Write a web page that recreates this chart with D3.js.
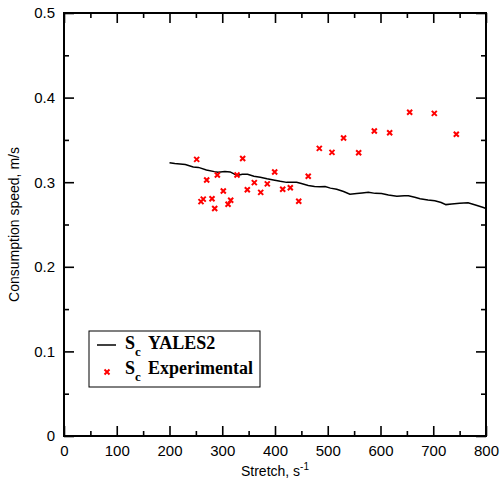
<!DOCTYPE html>
<html>
<head>
<meta charset="utf-8">
<script src="https://cdn.jsdelivr.net/npm/d3@7"></script>
<style>
  body { margin: 0; background: #fff; }
  .tick text { font-family: "Liberation Sans", Arial, sans-serif; font-size: 15px; fill: #000; }
  .axisText { font-family: "Liberation Sans", Arial, sans-serif; font-size: 14px; fill: #000; }
  .legText { font-family: "Liberation Serif", "Times New Roman", serif; font-weight: bold; fill: #000; }
</style>
</head>
<body>
<div id="chart"></div>
<script>
// YALES2 consumption speed (stretch, speed)
var yalesStretch = [200, 210, 220, 230, 245, 255, 270, 285, 292, 305, 315, 328, 338, 348, 360, 372, 385, 397, 410, 422,
                    432, 441, 450, 463, 475, 485, 495, 505, 517, 530, 542, 555, 565, 577, 590, 602, 615, 631, 645, 653,
                    665, 675, 690, 703, 715, 724, 735, 750, 766, 780, 795, 800];
var yalesSpeed   = [0.323, 0.322, 0.3215, 0.321, 0.318, 0.3175, 0.3145, 0.3125, 0.3117, 0.3125, 0.3122, 0.308, 0.3095, 0.3093, 0.307, 0.3058, 0.304, 0.3026, 0.301, 0.2998,
                    0.300, 0.300, 0.2985, 0.2962, 0.295, 0.2945, 0.2948, 0.293, 0.2916, 0.289, 0.2857, 0.2865, 0.2872, 0.288, 0.2868, 0.2866, 0.2848, 0.2833, 0.284, 0.284,
                    0.2822, 0.2805, 0.279, 0.278, 0.276, 0.2735, 0.2742, 0.275, 0.2758, 0.273, 0.270, 0.269];

// experimental points
var expStretch = [251.5, 338.7, 484, 399.4, 463, 270.5, 290.7, 328, 360.8, 385.4, 347.5, 372.9, 414.6, 429, 302,
                  445, 264, 259.7, 280.6, 316, 311, 285.7, 508, 530, 558.6, 588.3, 617.4, 655.3, 702, 743.7];
var expSpeed   = [0.327, 0.328, 0.340, 0.312, 0.307, 0.3026, 0.3085, 0.3085, 0.2995, 0.298, 0.291, 0.288, 0.2916, 0.2935, 0.2896,
                  0.2774, 0.280, 0.277, 0.2805, 0.2786, 0.2739, 0.269, 0.3353, 0.3522, 0.3349, 0.3605, 0.3585, 0.3826, 0.3814, 0.3566];

var xMajor = [0, 100, 200, 300, 400, 500, 600, 700, 800];
var xMinor = [50, 150, 250, 350, 450, 550, 650, 750];
var yMajor = [0, 0.1, 0.2, 0.3, 0.4, 0.5];
var yMinor = [0.05, 0.15, 0.25, 0.35, 0.45];

var W = 501, H = 486;
var margin = {top: 13, right: 15, bottom: 50, left: 64};
var width = W - margin.left - margin.right,
    height = H - margin.top - margin.bottom;

var svg = d3.select("#chart").append("svg")
  .attr("width", W).attr("height", H)
  .append("g")
  .attr("transform", "translate(" + margin.left + "," + margin.top + ")");

var x = d3.scaleLinear().domain([0, 800]).range([0, width]);
var y = d3.scaleLinear().domain([0, 0.5]).range([height, 0]);

var fmtY = function(d) { return d === 0 ? "0" : d3.format(".1f")(d); };

// major ticks with labels (bottom, left), no labels on top/right
svg.append("g").attr("transform", "translate(0," + height + ")")
  .call(d3.axisBottom(x).tickValues(xMajor).tickSizeInner(-10).tickSizeOuter(0).tickPadding(9).tickFormat(d3.format("d")));
svg.append("g")
  .call(d3.axisLeft(y).tickValues(yMajor).tickSizeInner(-10).tickSizeOuter(0).tickPadding(9).tickFormat(fmtY));
svg.append("g")
  .call(d3.axisTop(x).tickValues(xMajor).tickSizeInner(-10).tickSizeOuter(0).tickFormat(""));
svg.append("g").attr("transform", "translate(" + width + ",0)")
  .call(d3.axisRight(y).tickValues(yMajor).tickSizeInner(-10).tickSizeOuter(0).tickFormat(""));

// minor ticks
svg.append("g").attr("transform", "translate(0," + height + ")")
  .call(d3.axisBottom(x).tickValues(xMinor).tickSizeInner(-5).tickSizeOuter(0).tickFormat(""));
svg.append("g")
  .call(d3.axisLeft(y).tickValues(yMinor).tickSizeInner(-5).tickSizeOuter(0).tickFormat(""));
svg.append("g")
  .call(d3.axisTop(x).tickValues(xMinor).tickSizeInner(-5).tickSizeOuter(0).tickFormat(""));
svg.append("g").attr("transform", "translate(" + width + ",0)")
  .call(d3.axisRight(y).tickValues(yMinor).tickSizeInner(-5).tickSizeOuter(0).tickFormat(""));

svg.selectAll(".domain").remove();
svg.selectAll(".tick line").attr("stroke", "#000").attr("stroke-width", 1.6);

// frame
svg.append("rect")
  .attr("x", 0).attr("y", 0).attr("width", width).attr("height", height)
  .attr("fill", "none").attr("stroke", "#000").attr("stroke-width", 2);

// YALES2 line
var lineData = yalesStretch.map(function(d, i) { return [d, yalesSpeed[i]]; });
svg.append("path")
  .datum(lineData)
  .attr("fill", "none")
  .attr("stroke", "#000")
  .attr("stroke-width", 1.5)
  .attr("d", d3.line().x(function(d) { return x(d[0]); }).y(function(d) { return y(d[1]); }));

// experimental crosses
var cross = "M-2.5,-2.5L2.5,2.5M-2.5,2.5L2.5,-2.5";
var expData = expStretch.map(function(d, i) { return [d, expSpeed[i]]; });
svg.append("g").selectAll(null)
  .data(expData)
  .enter().append("path")
  .attr("d", cross)
  .attr("transform", function(d) { return "translate(" + x(d[0]) + "," + y(d[1]) + ")"; })
  .attr("stroke", "#ff0000")
  .attr("stroke-width", 2)
  .attr("fill", "none");

// axis titles
svg.append("text")
  .attr("class", "axisText")
  .attr("text-anchor", "middle")
  .attr("transform", "translate(" + (width / 2) + "," + (height + 40) + ")")
  .html("Stretch, s<tspan dy='-6' font-size='10'>-1</tspan>");

svg.append("text")
  .attr("class", "axisText")
  .attr("text-anchor", "middle")
  .attr("transform", "translate(" + (19 - margin.left) + "," + (height / 2) + ") rotate(-90)")
  .text("Consumption speed, m/s");

// legend
var leg = svg.append("g").attr("transform", "translate(" + (89 - margin.left) + "," + (331 - margin.top) + ")");
leg.append("rect")
  .attr("width", 171).attr("height", 56)
  .attr("fill", "#fff").attr("stroke", "#000").attr("stroke-width", 1);
leg.append("line")
  .attr("x1", 8).attr("x2", 27).attr("y1", 14).attr("y2", 14)
  .attr("stroke", "#000").attr("stroke-width", 1.5);
leg.append("path")
  .attr("d", cross)
  .attr("transform", "translate(18,41)")
  .attr("stroke", "#ff0000").attr("stroke-width", 2).attr("fill", "none");

var legLabels = ["YALES2", "Experimental"];
legLabels.forEach(function(lbl, i) {
  var t = leg.append("text").attr("class", "legText")
    .attr("x", 36).attr("y", 18 + i * 25).attr("font-size", 18);
  t.append("tspan").text("S");
  t.append("tspan").attr("font-size", 13).attr("dy", 7).text("c");
  t.append("tspan").attr("x", 59).attr("dy", -7).text(lbl);
});
</script>
</body>
</html>
